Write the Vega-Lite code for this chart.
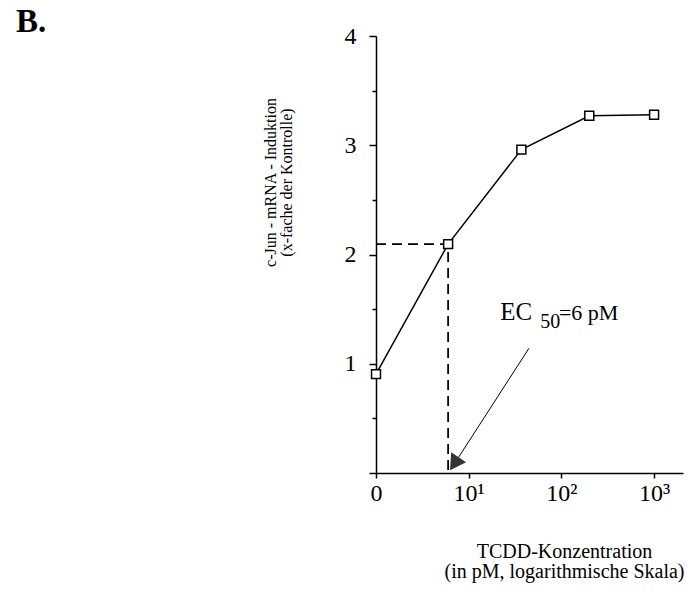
{
  "$schema": "https://vega.github.io/schema/vega-lite/v6.json",
  "autosize": {"type": "none"},
  "width": 307,
  "height": 437,
  "padding": {"left": 376, "top": 36, "right": 8, "bottom": 119},
  "background": "white",
  "config": {
    "font": "Liberation Serif",
    "view": {"stroke": null},
    "axis": {"grid": false, "domainColor": "black", "tickColor": "black", "labelColor": "black", "titleColor": "black", "titleFontWeight": "normal", "labelFont": "Liberation Serif", "titleFont": "Liberation Serif"}
  },
  "title": {"text": "B.", "anchor": "start", "frame": "group", "dx": -360, "dy": 15, "fontSize": 33, "fontWeight": "bold", "font": "Liberation Serif", "color": "black", "baseline": "top", "offset": 0},
  "datasets": {
    "curve": [
      {"c": 1, "v": 0.905},
      {"c": 6, "v": 2.095},
      {"c": 37, "v": 2.96},
      {"c": 200, "v": 3.27},
      {"c": 1000, "v": 3.28}
    ],
    "dash": [
      {"c": 1, "v": 2.095, "o": 1},
      {"c": 6, "v": 2.095, "o": 2},
      {"c": 6, "v": 0, "o": 3}
    ],
    "arrow": [
      {"c": 44.7, "v": 1.142, "o": 1},
      {"c": 7.2, "v": 0.1, "o": 2}
    ],
    "head": [
      {"c": 7.0, "v": 0.085}
    ],
    "ec": [
      {"c": 21.9, "v": 1.401, "t": "EC"}
    ],
    "sub": [
      {"c": 59.3, "v": 1.33, "t": "50"}
    ],
    "rest": [
      {"c": 94, "v": 1.401, "t": "=6 pM"}
    ]
  },
  "encoding": {
    "x": {
      "field": "c", "type": "quantitative",
      "scale": {"type": "log", "domain": [1, 2050]},
      "axis": {
        "values": [1, 10, 100, 1000],
        "labelExpr": "datum.value == 1 ? '0' : datum.value == 10 ? '10¹' : datum.value == 100 ? '10²' : '10³'",
        "labelFontSize": 24, "labelPadding": 3, "tickSize": 5, "domainWidth": 1.5, "tickWidth": 1.5,
        "labelFlush": false, "labelOverlap": false,
        "title": ["TCDD-Konzentration", "(in pM, logarithmische Skala)"],
        "titleFontSize": 20, "titleX": 188, "titleY": 68, "titleBaseline": "top", "titleAlign": "center", "titleLineHeight": 20
      }
    },
    "y": {
      "field": "v", "type": "quantitative",
      "scale": {"domain": [0, 4], "nice": false, "zero": false},
      "axis": {
        "values": [0, 0.5, 1, 1.5, 2, 2.5, 3, 3.5, 4],
        "labelExpr": "datum.value > 0 && datum.value % 1 === 0 ? format(datum.value, 'd') : ''",
        "labelFontSize": 24, "labelPadding": 13, "domainWidth": 1.5, "tickWidth": 1.5,
        "tickSize": {"condition": {"test": "datum.value % 1 !== 0", "value": 4}, "value": 7},
        "labelFlush": false, "labelOverlap": false,
        "title": ["c-Jun - mRNA - Induktion", "(x-fache der Kontrolle)"],
        "titleFontSize": 16, "titleX": -114, "titleY": 146, "titleBaseline": "top", "titleAlign": "center", "titleLineHeight": 16, "titleAngle": -90
      }
    }
  },
  "layer": [
    {
      "data": {"name": "dash"},
      "mark": {"type": "line", "color": "black", "strokeWidth": 1.8, "strokeDash": [10, 6]},
      "encoding": {"order": {"field": "o"}}
    },
    {
      "data": {"name": "arrow"},
      "mark": {"type": "line", "color": "black", "strokeWidth": 1},
      "encoding": {"order": {"field": "o"}}
    },
    {
      "data": {"name": "head"},
      "mark": {"type": "point", "shape": "triangle-up", "filled": true, "color": "#333333", "opacity": 1, "size": 320, "angle": 213.5}
    },
    {
      "data": {"name": "curve"},
      "mark": {"type": "line", "color": "black", "strokeWidth": 1.5, "point": {"shape": "square", "filled": true, "fill": "white", "stroke": "black", "strokeWidth": 1.5, "size": 80, "opacity": 1}}
    },
    {
      "data": {"name": "ec"},
      "mark": {"type": "text", "align": "left", "baseline": "alphabetic", "fontSize": 25, "color": "black"},
      "encoding": {"text": {"field": "t"}}
    },
    {
      "data": {"name": "sub"},
      "mark": {"type": "text", "align": "left", "baseline": "alphabetic", "fontSize": 20, "color": "black"},
      "encoding": {"text": {"field": "t"}}
    },
    {
      "data": {"name": "rest"},
      "mark": {"type": "text", "align": "left", "baseline": "alphabetic", "fontSize": 22, "color": "black"},
      "encoding": {"text": {"field": "t"}}
    }
  ]
}
